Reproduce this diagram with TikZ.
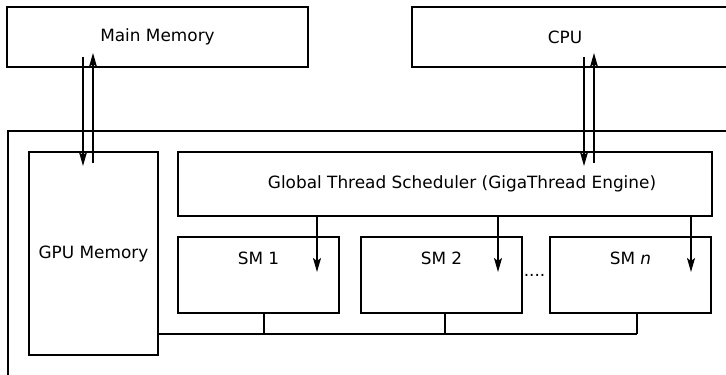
\documentclass[tikz,border=0pt]{standalone}
\usepackage{fontspec}
\setmainfont{DejaVu Sans}
\usetikzlibrary{arrows.meta, calc}

\begin{document}
\begin{tikzpicture}[
    x=1pt, y=-1pt,
    font=\fontsize{16.9pt}{20pt}\selectfont,
    box/.style={rectangle, draw=black, line width=1.4pt, fill=white, inner sep=0pt, outer sep=0pt},
    outerbox/.style={rectangle, draw=black, line width=1.2pt, inner sep=0pt, outer sep=0pt},
    arrow/.style={-{Stealth[length=14pt, width=8pt, inset=3pt]}, line width=1.5pt},
    bus/.style={line width=1.2pt}
]
    \clip[use as bounding box] (0,0) rectangle (726,375);

    % Nodes
    \node[box, minimum width=301pt, minimum height=60pt] (mainmem) at (157.5,37) {Main Memory};
    \node[box, minimum width=333pt, minimum height=60pt,
          label={[xshift=-13.5pt]center:CPU}] (cpu) at (578.5,37) {};

    \node[outerbox, minimum width=752pt, minimum height=269pt] (gpu) at (384,265.5) {};

    \node[box, minimum width=129pt, minimum height=203pt] (gpumem) at (93.5,253.5) {GPU Memory};
    \node[box, minimum width=534pt, minimum height=64pt,
          label={[xshift=17pt]center:Global Thread Scheduler (GigaThread Engine)}] (sched) at (445,184) {};

    \node[box, minimum width=161pt, minimum height=76pt,
          label={[anchor=center, yshift=-21pt]north:SM 1}] (sm1) at (258.5,275) {};
    \node[box, minimum width=161pt, minimum height=76pt,
          label={[anchor=center, yshift=-21pt]north:SM 2}] (sm2) at (441.5,275) {};
    \node[box, minimum width=161pt, minimum height=76pt,
          label={[anchor=center, yshift=-21pt]north:SM \textit{n}}] (smn) at (630.5,275) {};
    \node[anchor=base, inner sep=0pt] (dots) at (534.5,276) {....};

    % Arrows
    \draw[arrow] ($(mainmem.south -| gpumem.north)+(-10.5,-10)$) -- ($(gpumem.north)+(-10.5,14)$);
    \draw[arrow] ($(gpumem.north)+(-0.5,11)$) -- ($(mainmem.south -| gpumem.north)+(-0.5,-14)$);
    \draw[arrow] ($(cpu.south)+(5.5,-10)$) -- ($(cpu.south |- sched.north)+(5.5,14)$);
    \draw[arrow] ($(cpu.south |- sched.north)+(15.5,11)$) -- ($(cpu.south)+(15.5,-14)$);

    \draw[arrow] ($(sm1.north east |- sched.south)+(-22,0)$) -- ($(sm1.north east)+(-22,35)$);
    \draw[arrow] ($(sm2.north east |- sched.south)+(-24,0)$) -- ($(sm2.north east)+(-24,35)$);
    \draw[arrow] ($(smn.north east |- sched.south)+(-20,0)$) -- ($(smn.north east)+(-20,35)$);

    % Bus
    \draw[bus] ($(sm1.south)+(5.5,0)$) -- ++(0,21);
    \draw[bus] ($(sm2.south)+(3.5,0)$) -- ++(0,21);
    \draw[bus] ($(smn.south)+(6.5,0)$) -- ++(0,21) coordinate (busend);
    \draw[bus] (gpumem.east |- busend) -- (busend);

\end{tikzpicture}
\end{document}
